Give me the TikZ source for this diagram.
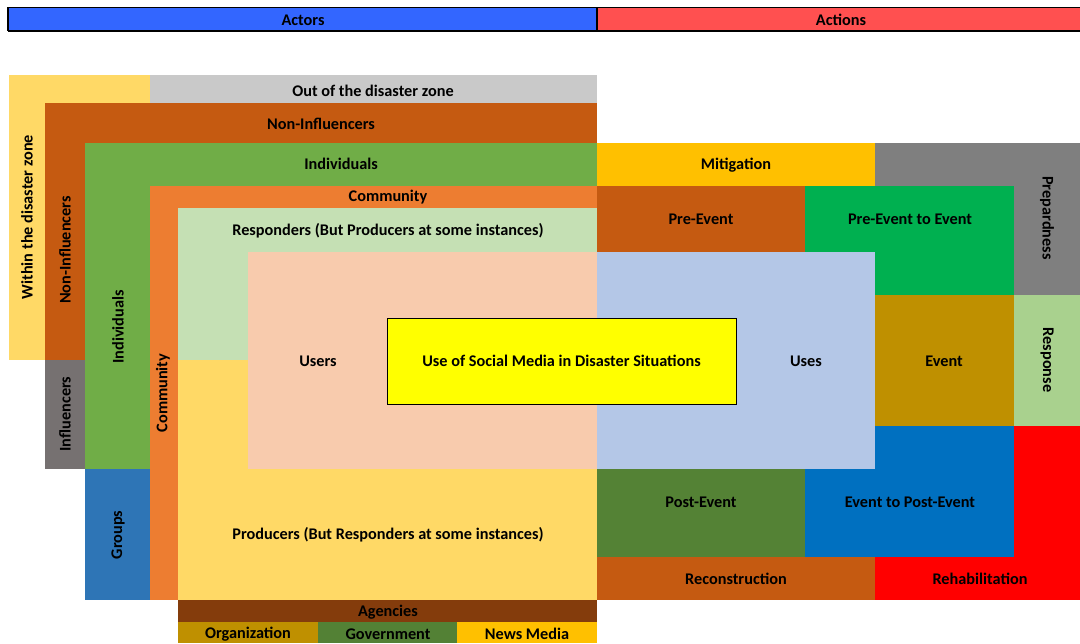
\documentclass[tikz,border=0pt]{standalone}
\usepackage{fontspec}
\setmainfont{Carlito}
\usepackage{tikz}
\usetikzlibrary{positioning}
\definecolor{actorblue}{HTML}{3366FF}
\definecolor{actionred}{HTML}{FF5050}
\definecolor{zoneyellow}{HTML}{FFD966}
\definecolor{zonegray}{HTML}{C9C9C9}
\definecolor{rustbrown}{HTML}{C55A11}
\definecolor{influgray}{HTML}{767171}
\definecolor{indivgreen}{HTML}{70AD47}
\definecolor{groupblue}{HTML}{2E75B6}
\definecolor{commorange}{HTML}{ED7D31}
\definecolor{respgreen}{HTML}{C5E0B4}
\definecolor{userpeach}{HTML}{F8CBAD}
\definecolor{usesblue}{HTML}{B4C7E7}
\definecolor{agencybrown}{HTML}{843C0C}
\definecolor{darkgold}{HTML}{BF9000}
\definecolor{govgreen}{HTML}{538135}
\definecolor{amber}{HTML}{FFC000}
\definecolor{prepgray}{HTML}{7F7F7F}
\definecolor{brightgreen}{HTML}{00B050}
\definecolor{responsegreen}{HTML}{A9D18E}
\definecolor{eventblue}{HTML}{0070C0}
\definecolor{postgreen}{HTML}{548235}
\definecolor{rehabred}{HTML}{FF0000}
\definecolor{centeryellow}{HTML}{FFFF00}
\newcommand{\cellbox}[3]{%
  \fill[#1] (#2) rectangle (#3);%
}
\tikzset{
  lbl/.style={font=\fontsize{12.2}{14}\selectfont\bfseries, inner sep=1pt},
  vlbl/.style={lbl, rotate=90},
  vlblr/.style={lbl, rotate=-90}
}
\begin{document}
\begin{tikzpicture}[x=0.75pt, y=-0.75pt]
    \useasboundingbox (0,0) rectangle (1080,643);
    % Header bar
    \fill[actorblue] (8,7) rectangle (597,31);
    \fill[actionred] (597,7) rectangle (1080,31);
    \draw[black, line width=0.5pt] (8,7) -- (1080,7);
    \draw[black, line width=1.3pt] (8,31) -- (1080,31);
    \draw[black, line width=1pt] (8,7) -- (8,31);
    \draw[black, line width=1pt] (597,7) -- (597,31);
    \node[lbl] (actors) at (303,20) {Actors};
    \node[lbl] (actions) at (841,20) {Actions};

    % Actors side, outer to inner
    \cellbox{zoneyellow}{9,75}{150,360}
    \cellbox{zonegray}{150,75}{597,103}
    \cellbox{rustbrown}{45,103}{597,360}
    \cellbox{influgray}{45,360}{85,469}
    \cellbox{indivgreen}{85,143}{597,469}
    \cellbox{groupblue}{85,469}{150,600}
    \cellbox{commorange}{150,186}{597,600}
    \cellbox{respgreen}{178,208}{597,360}
    \cellbox{zoneyellow}{178,360}{597,600}
    \cellbox{userpeach}{248,252}{597,469}
    \cellbox{agencybrown}{178,600}{597,622}
    \cellbox{darkgold}{178,622}{318,643}
    \cellbox{govgreen}{318,622}{457,643}
    \cellbox{amber}{457,622}{597,643}

    % Actions side
    \cellbox{amber}{597,143}{875,186}
    \cellbox{prepgray}{875,143}{1080,295}
    \cellbox{rustbrown}{597,186}{805,252}
    \cellbox{brightgreen}{805,186}{1014,295}
    \cellbox{darkgold}{875,295}{1014,426}
    \cellbox{responsegreen}{1014,295}{1080,426}
    \cellbox{rehabred}{875,426}{1080,600}
    \cellbox{eventblue}{805,426}{1014,557}
    \cellbox{postgreen}{597,469}{805,557}
    \cellbox{rustbrown}{597,557}{875,600}
    \cellbox{usesblue}{597,252}{875,469}

    % Centre box
    \node[lbl, draw=black, line width=0.6pt, fill=centeryellow, minimum width=349*0.75pt,
          minimum height=86*0.75pt, inner sep=0pt] (topic) at (561.5,361)
          {Use of Social Media in Disaster Situations};

    % Actor labels
    \node[lbl] (outzone) at (373,91) {Out of the disaster zone};
    \node[vlbl] (inzone) at (27,217) {Within the disaster zone};
    \node[lbl] (noninfl) at (321,124) {Non-Influencers};
    \node[vlbl] (noninflv) at (65,250) {Non-Influencers};
    \node[vlbl] (infl) at (65,414) {Influencers};
    \node[lbl] (indiv) at (341,164) {Individuals};
    \node[vlbl] (indivv) at (118,327) {Individuals};
    \node[vlbl] (groups) at (118,535) {Groups};
    \node[lbl] (comm) at (388,197) {Community};
    \node[vlbl] (commv) at (163,393) {Community};
    \node[lbl] (resp) at (388,231) {Responders (But Producers at some instances)};
    \node[lbl] (users) at (318,361) {Users};
    \node[lbl] (prod) at (388,535) {Producers (But Responders at some instances)};
    \node[lbl] (agencies) at (388,612) {Agencies};
    \node[lbl] (org) at (248,634) {Organization};
    \node[lbl] (gov) at (388,634) {Government};
    \node[lbl] (news) at (527,634) {News Media};

    % Action labels
    \node[lbl] (mitig) at (736,165) {Mitigation};
    \node[vlblr] (prep) at (1047,218) {Prepardness};
    \node[lbl] (pre) at (701,219) {Pre-Event};
    \node[lbl] (pretoev) at (910,219) {Pre-Event to Event};
    \node[lbl] (uses) at (806,361) {Uses};
    \node[lbl] (event) at (944,361) {Event};
    \node[vlblr] (response) at (1047,360) {Response};
    \node[lbl] (post) at (701,502) {Post-Event};
    \node[lbl] (evtopost) at (910,502) {Event to Post-Event};
    \node[lbl] (recon) at (736,579) {Reconstruction};
    \node[lbl] (rehab) at (980,579) {Rehabilitation};
\end{tikzpicture}
\end{document}
